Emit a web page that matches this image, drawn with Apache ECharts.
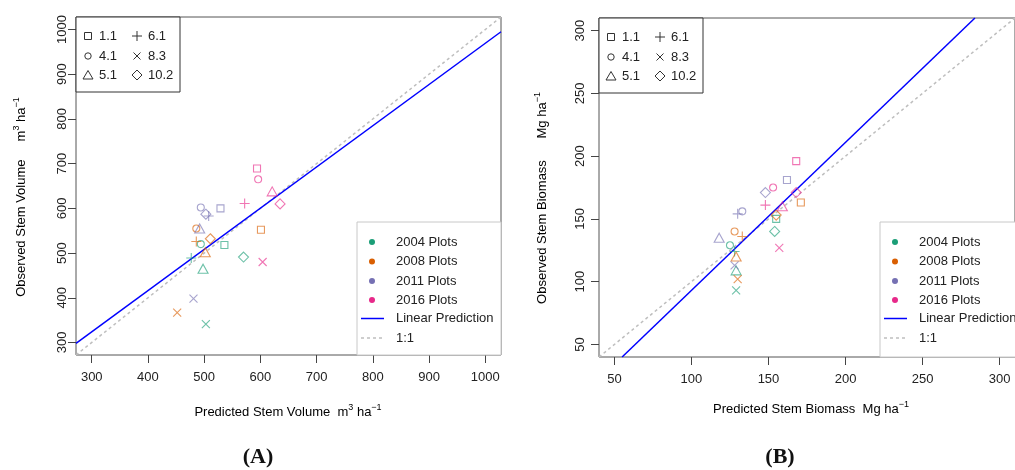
<!DOCTYPE html>
<html><head><meta charset="utf-8">
<script src="https://cdn.jsdelivr.net/npm/echarts@6/dist/echarts.min.js"></script>
<style>html,body{margin:0;padding:0;background:#fff}#c{width:1015px;height:470px}</style>
</head><body><div id="c"></div>
<script>
// ---------- data ----------
const plots = ['1.1', '4.1', '5.1', '6.1', '8.3', '10.2'];
const years = ['2004 Plots', '2008 Plots', '2011 Plots', '2016 Plots'];
const yearColors = ['#1B9E77', '#D95F02', '#7570B3', '#E7298A'];

// Panel A: stem volume (m3/ha), plots ordered as `plots`
const volPred2004 = [536, 494, 498, 477, 503, 570];
const volObs2004  = [518, 520, 465, 489, 341, 491];
const volPred2008 = [601, 486, 502, 486, 452, 511];
const volObs2008  = [552, 555, 502, 526, 367, 532];
const volPred2011 = [529, 494, 492, 508, 481, 503];
const volObs2011  = [600, 602, 555, 583, 398, 587];
const volPred2016 = [594, 596, 621, 572, 604, 635];
const volObs2016  = [689, 665, 638, 611, 480, 610];

// Panel B: stem biomass (Mg/ha)
const bioPred2004 = [155, 125, 129, 128, 129, 154];
const bioObs2004  = [150, 129, 109, 124, 93, 140];
const bioPred2008 = [171, 128, 129, 133, 130, 155];
const bioObs2008  = [163, 140, 120, 136, 102, 153];
const bioPred2011 = [162, 133, 118, 130, 128, 148];
const bioObs2011  = [181, 156, 135, 154, 113, 171];
const bioPred2016 = [168, 153, 159, 148, 157, 168];
const bioObs2016  = [196, 175, 160, 161, 127, 171];

// regression and 1:1 lines (end points)
const volLinear = [[272, 298], [1028, 995]];
const volOneToOne = [[272, 272], [1028, 1028]];
const bioLinear = [[55, 40], [284, 310]];
const bioOneToOne = [[40, 40], [310, 310]];

const volTicks = [300, 400, 500, 600, 700, 800, 900, 1000];
const bioTicks = [50, 100, 150, 200, 250, 300];

// ---------- styling ----------
const FONT = '"Liberation Sans", Arial, sans-serif';
const symbolPaths = [
  'path://M0,0L10,0L10,10L0,10Z',
  'circle',
  'path://M5,0L10,8.66L0,8.66Z',
  'path://M5,0L5,10M0,5L10,5',
  'path://M0,0L10,10M10,0L0,10',
  'path://M5,0L10,5L5,10L0,5Z'
];
const symbolSizes = [7, 7, [10, 9], 10, 8, 10];

function hexA(h, a) {
  const r = parseInt(h.slice(1, 3), 16), g = parseInt(h.slice(3, 5), 16), b = parseInt(h.slice(5, 7), 16);
  return 'rgba(' + r + ',' + g + ',' + b + ',' + a + ')';
}

const volPred = [volPred2004, volPred2008, volPred2011, volPred2016];
const volObs = [volObs2004, volObs2008, volObs2011, volObs2016];
const bioPred = [bioPred2004, bioPred2008, bioPred2011, bioPred2016];
const bioObs = [bioObs2004, bioObs2008, bioObs2011, bioObs2016];

function scatterSeries(idx, pred, obs) {
  return years.map((y, yi) => ({
    type: 'scatter', name: y, xAxisIndex: idx, yAxisIndex: idx, silent: true, z: 3,
    data: plots.map((p, pi) => ({
      value: [pred[yi][pi], obs[yi][pi]],
      symbol: symbolPaths[pi], symbolSize: symbolSizes[pi]
    })),
    itemStyle: { color: 'rgba(0,0,0,0)', borderColor: hexA(yearColors[yi], 0.8), borderWidth: 1.1 }
  }));
}
function lineSeries(idx, data, color, type, width) {
  return { type: 'line', xAxisIndex: idx, yAxisIndex: idx, data: data, showSymbol: false, silent: true,
    clip: true, z: 2, lineStyle: { color: color, type: type, width: width } };
}
function axis(pos, idx, min, max, ticks, rotate, margin) {
  return {
    type: 'value', gridIndex: idx, position: pos, min: min, max: max,
    splitLine: { show: false }, axisLine: { show: false },
    axisTick: { show: true, length: 8, inside: false, customValues: ticks, lineStyle: { color: '#444' } },
    axisLabel: { customValues: ticks, fontSize: 13, color: '#222', fontFamily: FONT,
      rotate: rotate, margin: margin, formatter: v => String(v) }
  };
}

const grids = [
  { left: 76, top: 17, width: 425, height: 338 },
  { left: 599, top: 18, width: 424, height: 339 }
];

// legends built as graphic elements
const graphics = [];
const LS = { fill: 'none', stroke: '#333', lineWidth: 1 };
function legendSymbol(i, cx, cy) {
  if (i === 0) graphics.push({ type: 'rect', z: 101, shape: { x: cx - 3.5, y: cy - 3.5, width: 7, height: 7 }, style: LS });
  else if (i === 1) graphics.push({ type: 'circle', z: 101, shape: { cx: cx, cy: cy, r: 3.2 }, style: LS });
  else if (i === 2) graphics.push({ type: 'polygon', z: 101, shape: { points: [[cx, cy - 4.5], [cx + 5, cy + 4], [cx - 5, cy + 4]] }, style: LS });
  else if (i === 3) {
    graphics.push({ type: 'line', z: 101, shape: { x1: cx - 5, y1: cy, x2: cx + 5, y2: cy }, style: LS });
    graphics.push({ type: 'line', z: 101, shape: { x1: cx, y1: cy - 5, x2: cx, y2: cy + 5 }, style: LS });
  } else if (i === 4) {
    graphics.push({ type: 'line', z: 101, shape: { x1: cx - 3.5, y1: cy - 3.5, x2: cx + 3.5, y2: cy + 3.5 }, style: LS });
    graphics.push({ type: 'line', z: 101, shape: { x1: cx - 3.5, y1: cy + 3.5, x2: cx + 3.5, y2: cy - 3.5 }, style: LS });
  } else {
    graphics.push({ type: 'polygon', z: 101, shape: { points: [[cx, cy - 5], [cx + 5, cy], [cx, cy + 5], [cx - 5, cy]] }, style: LS });
  }
}
function shapeLegend(x0, y0, boxW) {
  graphics.push({ type: 'rect', z: 100, shape: { x: x0, y: y0, width: boxW, height: 75 },
    style: { fill: '#fff', stroke: '#333', lineWidth: 1 } });
  const colX = [x0 + 12, x0 + 61], rowY = [y0 + 19, y0 + 39, y0 + 58];
  plots.forEach((p, i) => {
    const cx = colX[Math.floor(i / 3)], cy = rowY[i % 3];
    legendSymbol(i, cx, cy);
    graphics.push({ type: 'text', z: 101, x: cx + 11, y: cy,
      style: { text: p, font: '13px ' + FONT, fill: '#222', textVerticalAlign: 'middle' } });
  });
}
function yearLegend(x0, y0, w, h, dotX, textX) {
  graphics.push({ type: 'rect', z: 100, shape: { x: x0, y: y0, width: w, height: h },
    style: { fill: '#fff', stroke: '#c8c8c8', lineWidth: 1 } });
  const rows = [242, 261.5, 281, 300, 318.5, 338];
  years.forEach((y, i) => {
    graphics.push({ type: 'circle', z: 101, shape: { cx: dotX, cy: rows[i], r: 3 },
      style: { fill: yearColors[i] } });
    graphics.push({ type: 'text', z: 101, x: textX, y: rows[i],
      style: { text: y, font: '13px ' + FONT, fill: '#222', textVerticalAlign: 'middle' } });
  });
  graphics.push({ type: 'line', z: 101, shape: { x1: dotX - 11, y1: rows[4], x2: dotX + 12, y2: rows[4] },
    style: { stroke: '#0000FF', lineWidth: 1.5 } });
  graphics.push({ type: 'text', z: 101, x: textX, y: rows[4],
    style: { text: 'Linear Prediction', font: '13px ' + FONT, fill: '#222', textVerticalAlign: 'middle' } });
  graphics.push({ type: 'line', z: 101, shape: { x1: dotX - 11, y1: rows[5], x2: dotX + 12, y2: rows[5] },
    style: { stroke: '#BEBEBE', lineWidth: 1.5, lineDash: [3, 3] } });
  graphics.push({ type: 'text', z: 101, x: textX, y: rows[5],
    style: { text: '1:1', font: '13px ' + FONT, fill: '#222', textVerticalAlign: 'middle' } });
}
shapeLegend(76, 17, 104);
shapeLegend(599, 18, 104);
yearLegend(357, 222, 144, 133, 372, 396);
yearLegend(880, 222, 150, 135, 895, 919);

const rich = {
  b: { fontSize: 13, fontFamily: FONT, color: '#222', lineHeight: 18, verticalAlign: 'middle' },
  s: { fontSize: 9, fontFamily: FONT, color: '#222', lineHeight: 18, verticalAlign: 'top' }
};
function title(x, y, text, rot) {
  graphics.push({ type: 'text', z: 50, x: x, y: y, rotation: rot,
    style: { text: text, rich: rich, textAlign: 'center', textVerticalAlign: 'middle' } });
}
title(288, 412, '{b|Predicted Stem Volume  m}{s|3}{b| ha}{s|−1}', 0);
title(21, 197, '{b|Observed Stem Volume     m}{s|3}{b| ha}{s|−1}', Math.PI / 2);
title(811, 409, '{b|Predicted Stem Biomass  Mg ha}{s|−1}', 0);
title(542, 198, '{b|Observed Stem Biomass      Mg ha}{s|−1}', Math.PI / 2);
graphics.push({ type: 'text', x: 258, y: 457, style: { text: '(A)', font: 'bold 22px "Liberation Serif", serif',
  fill: '#111', textAlign: 'center', textVerticalAlign: 'middle' } });
graphics.push({ type: 'text', x: 780, y: 457, style: { text: '(B)', font: 'bold 22px "Liberation Serif", serif',
  fill: '#111', textAlign: 'center', textVerticalAlign: 'middle' } });

const option = {
  backgroundColor: '#fff',
  animation: false,
  grid: grids.map(g => Object.assign({ show: true, borderColor: '#555', borderWidth: 1, backgroundColor: 'transparent' }, g)),
  xAxis: [axis('bottom', 0, 272, 1028, volTicks, 0, 16), axis('bottom', 1, 40, 310, bioTicks, 0, 16)],
  yAxis: [axis('left', 0, 272, 1028, volTicks, 90, 7), axis('left', 1, 40, 310, bioTicks, 90, 12)],
  series: [
    lineSeries(0, volOneToOne, '#BEBEBE', [3, 3], 1.5),
    lineSeries(0, volLinear, '#0000FF', 'solid', 1.5),
    lineSeries(1, bioOneToOne, '#BEBEBE', [3, 3], 1.5),
    lineSeries(1, bioLinear, '#0000FF', 'solid', 1.5)
  ].concat(scatterSeries(0, volPred, volObs), scatterSeries(1, bioPred, bioObs)),
  graphic: { elements: graphics }
};
const chart = echarts.init(document.getElementById('c'), null, { renderer: 'canvas' });
chart.setOption(option);
</script></body></html>
